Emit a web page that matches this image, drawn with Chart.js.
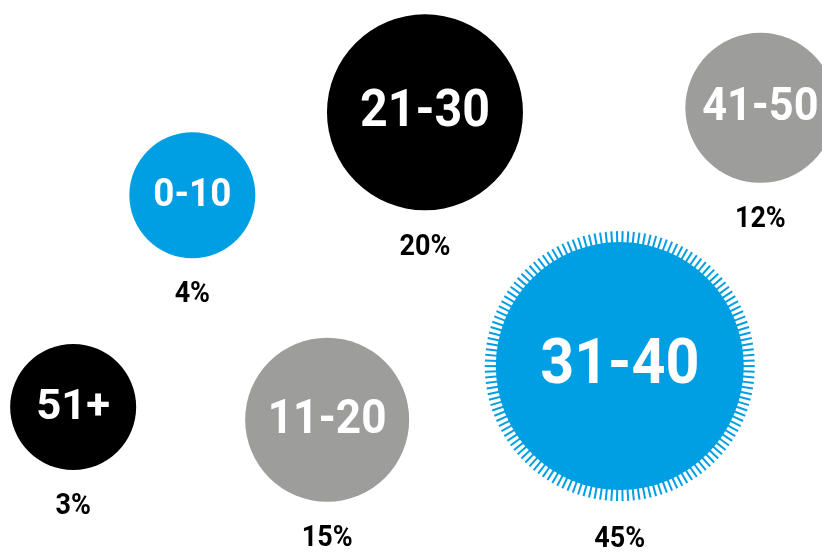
<!DOCTYPE html>
<html>
<head>
<meta charset="utf-8">
<script src="https://cdn.jsdelivr.net/npm/chart.js@4/dist/chart.umd.min.js"></script>
<style>
  html, body { margin: 0; padding: 0; background: #fff; }
  #wrap { width: 822px; height: 553px; }
</style>
</head>
<body>
<div id="wrap"><canvas id="ageChart" width="822" height="553"></canvas></div>
<script>
// age groups and their share
const groups = ["0-10", "11-20", "21-30", "31-40", "41-50", "51+"];
const shares = ["4%", "15%", "20%", "45%", "12%", "3%"];

// bubble placement (free 0-100 grid) and bubble radius
const xPos = [23.4, 39.8, 51.7, 75.4, 92.5, 8.9];
const yPos = [64.7, 24.1, 79.7, 33.8, 80.5, 26.4];
const radii = [63, 82, 98, 124, 75, 63];

// --------------------
// STYLE
// --------------------
const BLUE = "#009fe3";
const GREY = "#9d9d9c";
const BLACK = "#000000";
const colors = [BLUE, GREY, BLACK, BLUE, GREY, BLACK];
const nameSizes = [38, 48, 52, 63, 46, 42];
const nameStretch = [0.97, 0.92, 0.93, 0.94, 0.94, 1.04];
const ringed = "31-40";

// dashed ring around the biggest bubble + the labels
const labelPlugin = {
  id: "bubbleLabels",
  afterDatasetsDraw(chart) {
    const ctx = chart.ctx;
    const meta = chart.getDatasetMeta(0);
    meta.data.forEach((pt, i) => {
      const r = pt.options.radius;
      let outer = r;
      let gap = 37;

      if (groups[i] === ringed) {
        const ticks = 150;
        outer = r + 11;
        gap = 39;
        ctx.save();
        ctx.strokeStyle = colors[i];
        ctx.lineWidth = 2;
        for (let k = 0; k < ticks; k++) {
          const a = (k / ticks) * Math.PI * 2;
          ctx.beginPath();
          ctx.moveTo(pt.x + Math.cos(a) * (r - 2), pt.y + Math.sin(a) * (r - 2));
          ctx.lineTo(pt.x + Math.cos(a) * outer, pt.y + Math.sin(a) * outer);
          ctx.stroke();
        }
        ctx.restore();
      }

      // group name, white, slightly condensed
      ctx.save();
      ctx.textAlign = "center";
      ctx.textBaseline = "middle";
      ctx.fillStyle = "#ffffff";
      ctx.font = "bold " + nameSizes[i] + "px Roboto";
      ctx.translate(pt.x, pt.y + 1);
      ctx.scale(nameStretch[i], 1);
      ctx.fillText(groups[i], 0, 0);
      ctx.restore();

      // share underneath
      ctx.save();
      ctx.textAlign = "center";
      ctx.textBaseline = "middle";
      ctx.fillStyle = "#000000";
      ctx.font = "bold 29px Roboto";
      ctx.translate(pt.x, pt.y + outer + gap);
      ctx.scale(0.93, 1);
      ctx.fillText(shares[i], 0, 0);
      ctx.restore();
    });
  },
};

const ctx = document.getElementById("ageChart").getContext("2d");
const ageChart = new Chart(ctx, {
  type: "bubble",
  data: {
    labels: groups,
    datasets: [{
      data: groups.map((g, i) => ({ x: xPos[i], y: yPos[i], r: radii[i] })),
      backgroundColor: colors,
      borderWidth: 0,
      hoverRadius: 0,
      clip: false,
    }],
  },
  options: {
    responsive: false,
    animation: false,
    layout: { padding: 0, autoPadding: false },
    plugins: { legend: { display: false }, tooltip: { enabled: false } },
    scales: {
      x: { type: "linear", min: 0, max: 100, display: false },
      y: { type: "linear", min: 0, max: 100, display: false },
    },
  },
  plugins: [labelPlugin],
});
</script>
</body>
</html>
